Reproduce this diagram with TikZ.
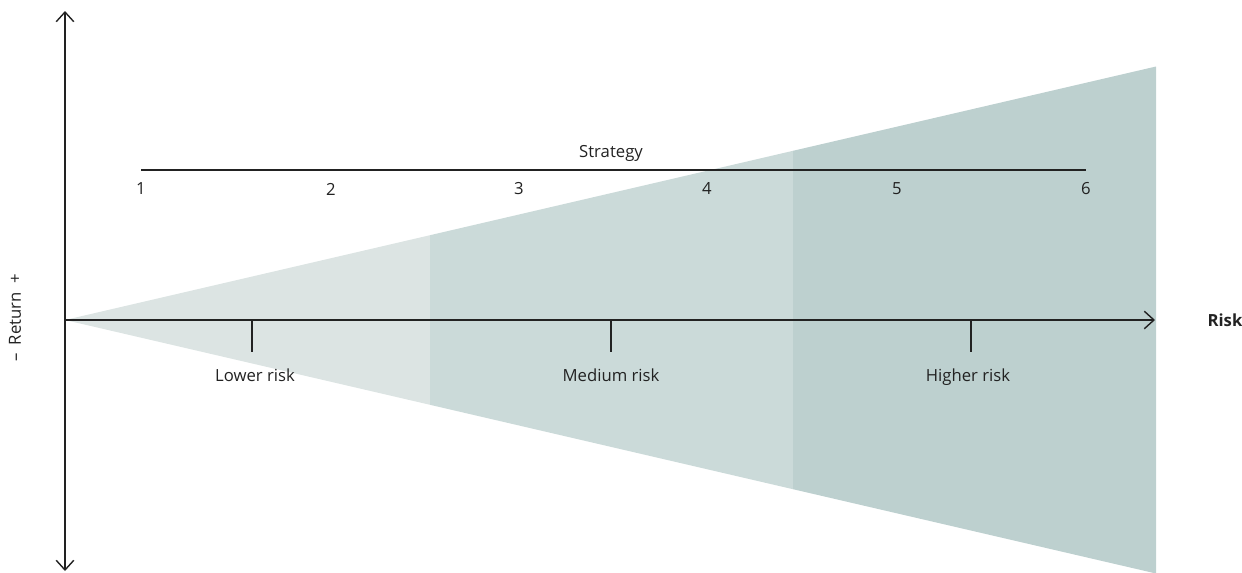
\documentclass[tikz,border=0pt]{standalone}
\usepackage{fontspec}
\setmainfont{Open Sans}
\usetikzlibrary{arrows.meta}
\definecolor{zoneA}{HTML}{DCE4E3}
\definecolor{zoneB}{HTML}{CBDAD9}
\definecolor{zoneC}{HTML}{BDD0CF}
\definecolor{ink}{HTML}{222222}
\begin{document}
\begin{tikzpicture}[x=0.02cm, y=-0.02cm,
    axis/.style={line width=0.8pt, color=ink},
    barb/.style={-{Straight Barb[length=5.5pt,width=10pt]}},
    tick/.style={line width=0.8pt, color=ink},
    lbl/.style={font=\fontsize{9.5}{11}\selectfont, text=ink, inner sep=1pt}]
        \useasboundingbox (0,0) rectangle (1242,572);

        % Zones of the cone
        \fill[zoneA] (65,320) -- (430,235.2) -- (430,404.8) -- cycle;
        \fill[zoneB] (430,235.2) -- (793,150.8) -- (793,489.2) -- (430,404.8) -- cycle;
        \fill[zoneC] (793,150.8) -- (1156,66.5) -- (1156,573.5) -- (793,489.2) -- cycle;

        % Axes
        \coordinate (o) at (65,320);
        \coordinate (top) at (65,11);
        \coordinate (bot) at (65,571);
        \coordinate (xend) at (1155,320);
        \draw[axis, barb] (o) -- (top);
        \draw[axis, barb] (o) -- (bot);
        \draw[axis, barb] (o) -- (xend);
        \node[lbl, font=\fontsize{9.5}{11}\selectfont\bfseries] (risk) at (1225,320) {Risk};
        \node[lbl, rotate=90] (ret) at (15,318) {–\hspace{0.5em}Return\hspace{0.5em}+};

        % Strategy scale
        \node[lbl] (s1) at (141,189) {1};
        \node[lbl] (s2) at (331,189) {2};
        \node[lbl] (s3) at (519,189) {3};
        \node[lbl] (s4) at (707,189) {4};
        \node[lbl] (s5) at (897,189) {5};
        \node[lbl] (s6) at (1086,189) {6};
        \coordinate (sl) at (141,170);
        \coordinate (sr) at (1086,170);
        \draw[tick] (sl) -- (sr);
        \node[lbl] (strat) at (611,153) {Strategy};

        % Risk ticks
        \foreach \n/\xx/\tx/\txt in {lo/252/255/Lower risk, med/611/611/Medium risk, hi/971/968/Higher risk} {
            \coordinate (\n a) at (\xx,320);
            \coordinate (\n b) at (\xx,352);
            \draw[tick] (\n a) -- (\n b);
            \node[lbl, anchor=base] (\n) at (\tx,381) {\txt};
        }
\end{tikzpicture}
\end{document}
